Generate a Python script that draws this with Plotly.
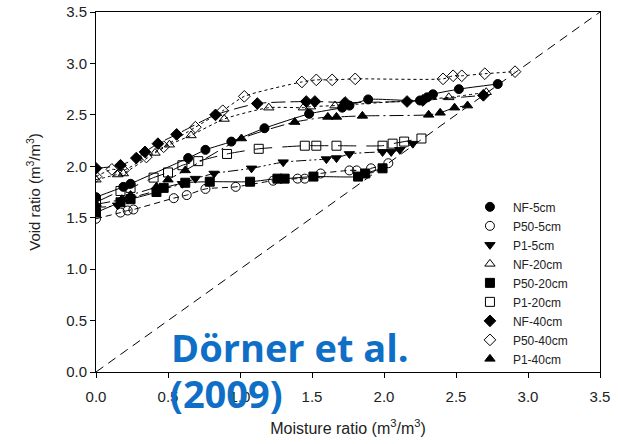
import plotly.graph_objects as go

# ---- data ----
nf5_x = [0.0, 0.19, 0.24, 0.64, 0.76, 0.94, 1.17, 1.48, 1.71, 1.76, 1.89, 2.25, 2.30, 2.34, 2.52, 2.79]
nf5_y = [1.70, 1.80, 1.83, 2.08, 2.16, 2.24, 2.37, 2.51, 2.57, 2.59, 2.65, 2.64, 2.67, 2.70, 2.75, 2.80]

p505_x = [0.0, 0.17, 0.22, 0.26, 0.54, 0.63, 0.76, 0.97, 1.23, 1.40, 1.45, 1.56, 1.76, 1.81, 1.91, 2.03]
p505_y = [1.49, 1.55, 1.57, 1.58, 1.69, 1.72, 1.78, 1.80, 1.86, 1.88, 1.88, 1.93, 1.96, 1.96, 1.98, 2.03]

p15_x = [0.0, 0.15, 0.22, 0.60, 0.69, 0.82, 1.08, 1.30, 1.60, 1.67, 1.76, 1.99, 2.05, 2.11, 2.20]
p15_y = [1.60, 1.62, 1.68, 1.83, 1.88, 1.93, 1.98, 2.04, 2.07, 2.08, 2.12, 2.14, 2.14, 2.16, 2.22]

nf20_x = [0.0, 0.15, 0.19, 0.41, 0.51, 0.66, 0.89, 1.20, 1.44, 1.49, 1.66, 2.45, 2.71]
nf20_y = [1.87, 1.92, 1.93, 2.13, 2.21, 2.30, 2.46, 2.57, 2.57, 2.58, 2.59, 2.67, 2.72]

p5020_x = [0.0, 0.17, 0.24, 0.42, 0.47, 0.62, 0.79, 1.07, 1.26, 1.31, 1.51, 1.82, 1.87, 1.99]
p5020_y = [1.55, 1.65, 1.68, 1.75, 1.79, 1.84, 1.85, 1.85, 1.88, 1.88, 1.90, 1.90, 1.93, 1.98]

p120_x = [0.0, 0.17, 0.24, 0.40, 0.50, 0.60, 0.71, 0.91, 1.13, 1.45, 1.53, 1.67, 1.99, 2.06, 2.14, 2.26]
p120_y = [1.65, 1.76, 1.79, 1.89, 1.94, 2.01, 2.05, 2.12, 2.17, 2.20, 2.20, 2.20, 2.20, 2.22, 2.24, 2.27]

nf40_x = [0.0, 0.17, 0.28, 0.34, 0.43, 0.56, 0.83, 1.12, 1.46, 1.52, 1.73, 2.16, 2.27, 2.69]
nf40_y = [1.98, 2.01, 2.08, 2.14, 2.22, 2.31, 2.50, 2.61, 2.63, 2.63, 2.62, 2.63, 2.64, 2.69]

p5040_x = [0.0, 0.11, 0.19, 0.35, 0.47, 0.69, 0.88, 1.03, 1.43, 1.53, 1.64, 1.80, 2.41, 2.48, 2.54, 2.70, 2.91]
p5040_y = [1.90, 1.97, 1.96, 2.09, 2.19, 2.38, 2.54, 2.68, 2.82, 2.84, 2.84, 2.85, 2.85, 2.88, 2.88, 2.90, 2.92]

p140_x = [0.0, 0.18, 0.24, 0.42, 0.50, 0.62, 1.01, 1.38, 1.61, 1.67, 1.85, 2.31, 2.39, 2.49, 2.58]
p140_y = [1.63, 1.68, 1.72, 1.80, 1.87, 1.96, 2.27, 2.43, 2.48, 2.48, 2.49, 2.50, 2.52, 2.57, 2.59]

one_to_one = [0.0, 3.5]

x_ticks = [0.0, 0.5, 1.0, 1.5, 2.0, 2.5, 3.0, 3.5]
y_ticks = [0.0, 0.5, 1.0, 1.5, 2.0, 2.5, 3.0, 3.5]

series = [
    ("NF-5cm", nf5_x, nf5_y, "circle", "solid"),
    ("P50-5cm", p505_x, p505_y, "circle-open", "6px,4px"),
    ("P1-5cm", p15_x, p15_y, "triangle-down", "10px,3px,2px,3px,2px,3px"),
    ("NF-20cm", nf20_x, nf20_y, "triangle-up-open", "dot"),
    ("P50-20cm", p5020_x, p5020_y, "square", "solid"),
    ("P1-20cm", p120_x, p120_y, "square-open", "18px,10px"),
    ("NF-40cm", nf40_x, nf40_y, "diamond", "14px,5px"),
    ("P50-40cm", p5040_x, p5040_y, "diamond-open", "dot"),
    ("P1-40cm", p140_x, p140_y, "triangle-up", "14px,4px,2px,4px"),
]

fig = go.Figure()

# 1:1 line
fig.add_trace(go.Scatter(x=one_to_one, y=one_to_one, mode="lines",
                         line=dict(color="black", width=1, dash="9px,6px"),
                         showlegend=False, hoverinfo="skip"))

for name, xs, ys, sym, dash in series:
    fig.add_trace(go.Scatter(x=xs, y=ys, mode="lines",
                             line=dict(color="black", width=1, dash=dash,
                                       shape="spline", smoothing=0.6),
                             showlegend=False, hoverinfo="skip"))
for name, xs, ys, sym, dash in series:
    fig.add_trace(go.Scatter(x=xs, y=ys, mode="markers", name=name,
                             marker=dict(symbol=sym, size=9, color="black",
                                         line=dict(color="black", width=1))))

blue = "#0F6FC6"
fig.add_annotation(text="<b>Dörner et al.</b>", xref="paper", yref="paper",
                   x=(169 - 96) / 504, y=(372 - 366) / 360,
                   xanchor="left", yanchor="bottom", yshift=-9,
                   showarrow=False,
                   font=dict(family="Open Sans", size=38, color=blue))
fig.add_annotation(text="<b>(2009)</b>", xref="paper", yref="paper",
                   x=(168 - 96) / 504, y=(372 - 412) / 360,
                   xanchor="left", yanchor="bottom", yshift=-9,
                   showarrow=False,
                   font=dict(family="Open Sans", size=38, color=blue))

tick_font = dict(family="Liberation Sans, Arial", size=15, color="#222")
axis_common = dict(showline=True, linecolor="black", linewidth=1, mirror=True,
                   ticks="outside", ticklen=5, tickcolor="black",
                   showgrid=False, zeroline=False, automargin=False,
                   tickfont=tick_font)

fig.update_xaxes(range=[0, 3.5], tickvals=x_ticks,
                 ticktext=[f"{v:.1f}" for v in x_ticks],
                 ticklabelstandoff=6,
                 title=dict(text="Moisture ratio (m<sup>3</sup>/m<sup>3</sup>)",
                            font=dict(family="Liberation Sans, Arial", size=16, color="#222"),
                            standoff=18),
                 **axis_common)
fig.update_yaxes(range=[0, 3.5], tickvals=y_ticks,
                 ticktext=[f"{v:.1f}" for v in y_ticks],
                 title=dict(text="Void ratio (m<sup>3</sup>/m<sup>3</sup>)",
                            font=dict(family="Liberation Sans, Arial", size=15, color="#222"),
                            standoff=21),
                 **axis_common)

fig.update_layout(
    width=618, height=444,
    margin=dict(l=96, r=18, t=12, b=72),
    paper_bgcolor="white", plot_bgcolor="white",
    legend=dict(x=0.736, y=0.499, xanchor="left", yanchor="top",
                bgcolor="rgba(0,0,0,0)", tracegroupgap=0, itemwidth=36,
                font=dict(family="Liberation Sans, Arial", size=12, color="#222")),
)

fig.write_html("out.html")
